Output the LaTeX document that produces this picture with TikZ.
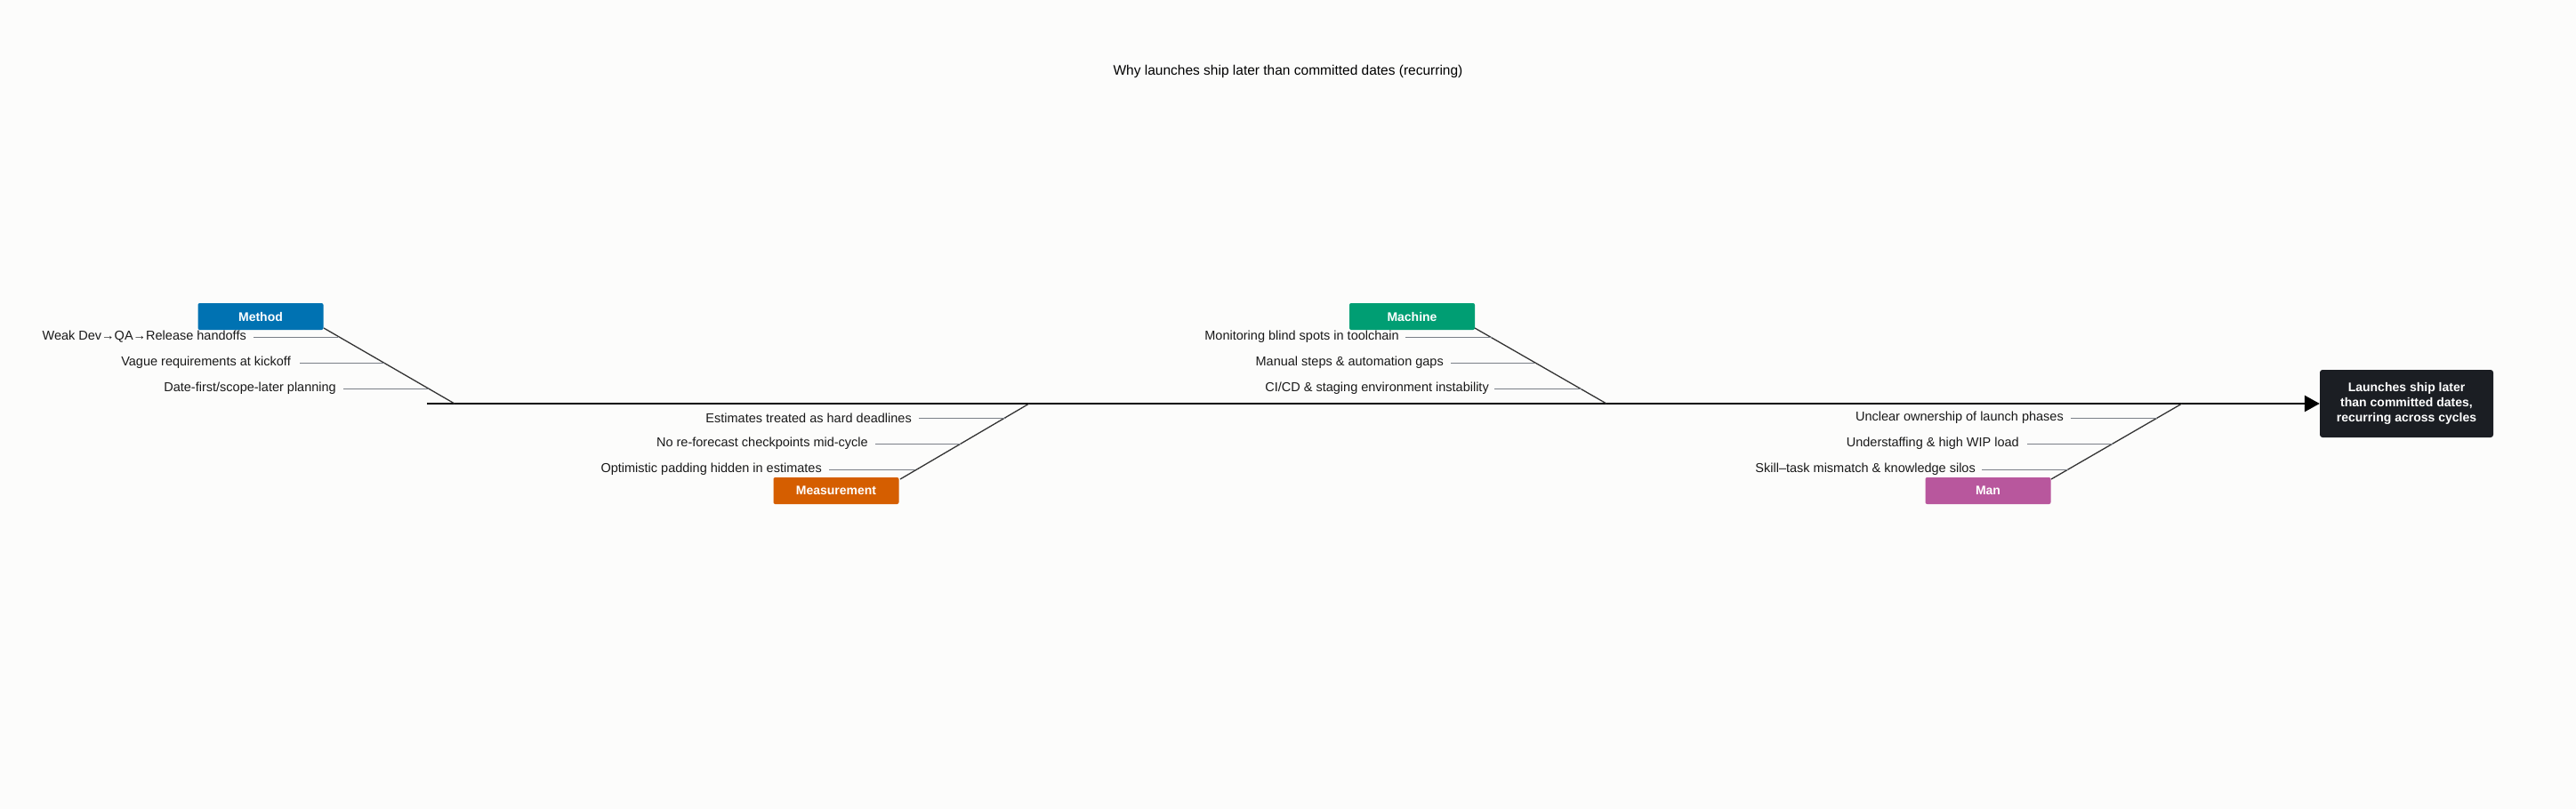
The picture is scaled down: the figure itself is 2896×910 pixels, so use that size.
\documentclass[tikz,border=0pt]{standalone}
\usepackage{fontspec}
\setmainfont{Liberation Sans}
\usetikzlibrary{arrows.meta}
\definecolor{bg}{HTML}{FCFCFB}
\definecolor{cMethod}{HTML}{0072B2}
\definecolor{cMachine}{HTML}{009E73}
\definecolor{cMeas}{HTML}{D55E00}
\definecolor{cMan}{HTML}{B8579D}
\definecolor{cEff}{HTML}{1B1E23}
\definecolor{tick}{HTML}{7A7F87}
\begin{document}
\begin{tikzpicture}[x=1pt,y=-1pt,
  cat/.style={fill=#1,rounded corners=2pt,minimum width=141,minimum height=30,inner sep=0,text=white,font=\fontsize{14}{16}\selectfont\bfseries},
  lab/.style={anchor=east,inner sep=0,font=\fontsize{14.5}{16}\selectfont,text=black!90},
  bone/.style={draw=black!80,line width=1.3},
  tk/.style={draw=tick,line width=1}]
\fill[bg] (0,0) rectangle (2896,910);
\useasboundingbox (0,0) rectangle (2896,910);
\node (title) at (1448,80) {\fontsize{15.5}{18}\selectfont Why launches ship later than committed dates (recurring)};
% effect
\node[fill=cEff,rounded corners=3pt,minimum width=195,minimum height=76,text=white,align=center,font=\fontsize{14}{17}\selectfont\bfseries] (eff) at (2705.5,454) {Launches ship later\\than committed dates,\\recurring across cycles};
\coordinate (s0) at (480,454);
\draw[line width=2.8,-{Triangle[length=17,width=18]}] (s0) -- (eff.west);
% junctions
\coordinate (jA) at (511,454);
\coordinate (jB) at (1157,454);
\coordinate (jC) at (1806,454);
\coordinate (jD) at (2453,454);
% categories
\node[cat=cMethod] (method) at (293,356) {Method};
\node[cat=cMeas] (meas) at (940,552) {Measurement};
\node[cat=cMachine] (machine) at (1587.5,356) {Machine};
\node[cat=cMan] (man) at (2235,552) {Man};
\coordinate (bA) at (364,369);
\coordinate (bB) at (1012,539);
\coordinate (bC) at (1658,369);
\coordinate (bD) at (2306,539);
\draw[bone] (bA) -- (jA);
\draw[bone] (bB) -- (jB);
\draw[bone] (bC) -- (jC);
\draw[bone] (bD) -- (jD);
% Method causes
\node[lab] (a1) at (277,379) {Weak Dev→QA→Release handoffs};
\node[lab] (a2) at (327,408) {Vague requirements at kickoff};
\node[lab] (a3) at (378,437) {Date-first/scope-later planning};
\coordinate (ea1) at (380,379); \coordinate (ea2) at (432,408); \coordinate (ea3) at (482,437);
\draw[tk] ([xshift=8]a1.east) -- (ea1);
\draw[tk] ([xshift=10]a2.east) -- (ea2);
\draw[tk] ([xshift=8]a3.east) -- (ea3);
% Measurement causes
\node[lab] (b1) at (1025,470) {Estimates treated as hard deadlines};
\node[lab] (b2) at (976,499) {No re-forecast checkpoints mid-cycle};
\node[lab] (b3) at (924,528) {Optimistic padding hidden in estimates};
\coordinate (eb1) at (1131,470); \coordinate (eb2) at (1080,499); \coordinate (eb3) at (1029,528);
\draw[tk] ([xshift=8]b1.east) -- (eb1);
\draw[tk] ([xshift=8]b2.east) -- (eb2);
\draw[tk] ([xshift=8]b3.east) -- (eb3);
% Machine causes
\node[lab] (c1) at (1573,379) {Monitoring blind spots in toolchain};
\node[lab] (c2) at (1623,408) {Manual steps \& automation gaps};
\node[lab] (c3) at (1674,437) {CI/CD \& staging environment instability};
\coordinate (ec1) at (1677,379); \coordinate (ec2) at (1725,408); \coordinate (ec3) at (1778,437);
\draw[tk] ([xshift=7]c1.east) -- (ec1);
\draw[tk] ([xshift=8]c2.east) -- (ec2);
\draw[tk] ([xshift=6]c3.east) -- (ec3);
% Man causes
\node[lab] (d1) at (2320,470) {Unclear ownership of launch phases};
\node[lab] (d2) at (2270,499) {Understaffing \& high WIP load};
\node[lab] (d3) at (2221,528) {Skill–task mismatch \& knowledge silos};
\coordinate (ed1) at (2425,470); \coordinate (ed2) at (2376,499); \coordinate (ed3) at (2325,528);
\draw[tk] ([xshift=8]d1.east) -- (ed1);
\draw[tk] ([xshift=9]d2.east) -- (ed2);
\draw[tk] ([xshift=7]d3.east) -- (ed3);
\end{tikzpicture}
\end{document}
